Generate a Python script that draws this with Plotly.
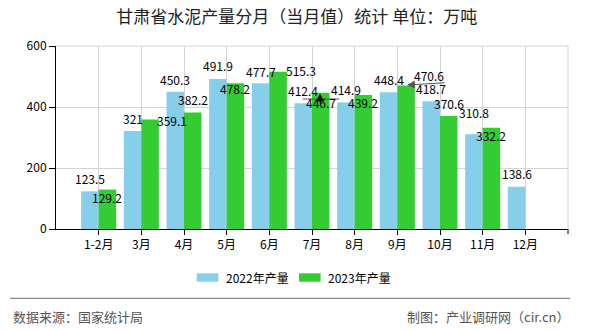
import plotly.graph_objects as go

# ---- data ----
months = ['1-2月', '3月', '4月', '5月', '6月', '7月', '8月', '9月', '10月', '11月', '12月']
prod_2022 = [123.5, 321, 450.3, 491.9, 477.7, 412.4, 414.9, 448.4, 418.7, 310.8, 138.6]
prod_2023 = [129.2, 359.1, 382.2, 478.2, 515.3, 446.7, 439.2, 470.6, 370.6, 332.2, None]
series_names = ['2022年产量', '2023年产量']
y_ticks = [0, 200, 400, 600]

title_text = '甘肃省水泥产量分月（当月值）统计 单位：万吨'
source_text = '数据来源：国家统计局'
credit_text = '制图：产业调研网（cir.cn）'

# ---- label placement (pixel offsets from bar-top centre) ----
dx_2022 = [0] * 11
dy_2022 = [12.5, 12.5, 12.5, 13.5, 12, 12.8, 12.5, 12.5, 12.5, 22, 12.8]
dx_2023 = [0, 22, 0, 0, 23, 0, 0, 23, 0, 0]
dy_2023 = [-7.7, -0.7, 12.9, -5.3, 1.4, -10, -7.7, 10, 12.8, -8]

# ---- geometry / styles ----
W, H = 590, 330
L, R, T, B = 56, 22, 46, 101
PW, PH = W - L - R, H - T - B
BLUE = '#87CEEB'
GREEN = '#33CC33'
GRID = '#d4d4d4'
FONT = 'Noto Sans CJK SC'
BARGAP = 0.18
half = (1 - BARGAP) / 4  # offset of each bar centre from category centre


def paper(px, py):
    return (px - L) / PW, (H - B - py) / PH


fig = go.Figure()
fig.add_trace(go.Bar(x=months, y=prod_2022, name=series_names[0],
                     marker=dict(color=BLUE, line=dict(width=0)), hoverinfo='skip'))
fig.add_trace(go.Bar(x=months, y=prod_2023, name=series_names[1],
                     marker=dict(color=GREEN, line=dict(width=0)), hoverinfo='skip'))

annotations = []
for i, v in enumerate(prod_2022):
    annotations.append(dict(x=i - half, y=v, xref='x', yref='y', text=f'{v:g}',
                            showarrow=False, xanchor='center', yanchor='middle',
                            xshift=dx_2022[i], yshift=dy_2022[i],
                            font=dict(family=FONT, size=12, color='#000')))
for i, v in enumerate(prod_2023):
    if v is None:
        continue
    annotations.append(dict(x=i + half, y=v, xref='x', yref='y', text=f'{v:g}',
                            showarrow=False, xanchor='center', yanchor='middle',
                            xshift=dx_2023[i], yshift=dy_2023[i],
                            font=dict(family=FONT, size=12, color='#000')))

# leader arrows
hx, hy = paper(320, 93.5)
annotations.append(dict(x=hx, y=hy, xref='paper', yref='paper', text='', showarrow=True,
                        ax=0, ay=6, arrowhead=2, arrowsize=1.6, arrowwidth=1,
                        arrowcolor='#000'))
hx, hy = paper(407, 85)
annotations.append(dict(x=hx, y=hy, xref='paper', yref='paper', text='', showarrow=True,
                        ax=39, ay=-2.3, arrowhead=2, arrowsize=1.6, arrowwidth=1,
                        arrowcolor='#555'))

# legend (manual)
shapes = []
for sx, col, name in [(196.7, BLUE, series_names[0]), (299, GREEN, series_names[1])]:
    x0, y0 = paper(sx, 273.3)
    x1, y1 = paper(sx + 21.6, 281.7)
    shapes.append(dict(type='rect', xref='paper', yref='paper', x0=x0, x1=x1, y0=y1, y1=y0,
                       fillcolor=col, line=dict(width=0)))
    tx, ty = paper(sx + 27, 277.7)
    annotations.append(dict(x=tx, y=ty, xref='paper', yref='paper', text=name, showarrow=False,
                            xanchor='left', yanchor='middle',
                            font=dict(family=FONT, size=12, color='#000')))

# 7月 leader line
x0, y0 = paper(302.7, 99)
x1, _ = paper(339.3, 99)
shapes.append(dict(type='line', xref='paper', yref='paper', x0=x0, x1=x1, y0=y0, y1=y0,
                   line=dict(color='#555', width=1)))

# right border of plot
shapes.append(dict(type='line', xref='paper', yref='paper', x0=1, x1=1, y0=0, y1=1,
                   line=dict(color=GRID, width=1)))
# top border
shapes.append(dict(type='line', xref='paper', yref='paper', x0=0, x1=1, y0=1, y1=1,
                   line=dict(color=GRID, width=1)))
# final x tick at right end of axis
_, ty0 = paper(0, H - B)
_, ty1 = paper(0, H - B + 5)
shapes.append(dict(type='line', xref='paper', yref='paper', x0=1, x1=1, y0=ty0, y1=ty1,
                   line=dict(color='#000', width=1)))

# footer separator line
x0, y0 = paper(10, 298.3)
x1, _ = paper(570, 298.3)
shapes.append(dict(type='line', xref='paper', yref='paper', x0=x0, x1=x1, y0=y0, y1=y0,
                   line=dict(color='#888', width=1.2)))

fx, fy = paper(11, 316.7)
annotations.append(dict(x=fx, y=fy, xref='paper', yref='paper', text=source_text, showarrow=False,
                        xanchor='left', yanchor='middle',
                        font=dict(family=FONT, size=13, color='#555')))
fx, fy = paper(571, 316.7)
annotations.append(dict(x=fx, y=fy, xref='paper', yref='paper', text=credit_text, showarrow=False,
                        xanchor='right', yanchor='middle',
                        font=dict(family=FONT, size=13, color='#555')))

fig.update_layout(
    width=W, height=H,
    margin=dict(l=L, r=R, t=T, b=B),
    barmode='group', bargap=BARGAP, bargroupgap=0,
    plot_bgcolor='white', paper_bgcolor='white',
    showlegend=False,
    font=dict(family=FONT, size=12, color='#000'),
    title=dict(text=title_text, x=0.503, xref='container', xanchor='center',
               y=1 - 16.7 / H, yref='container', yanchor='middle',
               font=dict(family=FONT, size=17, color='#222')),
    xaxis=dict(type='category', range=[-1, len(months)], showgrid=True, gridcolor=GRID,
               gridwidth=1, showline=True, linecolor='#000', linewidth=1,
               ticks='outside', ticklen=5, tickcolor='#000', zeroline=False,
               tickfont=dict(family=FONT, size=12, color='#000')),
    yaxis=dict(range=[0, 600], tickvals=y_ticks, showgrid=True, gridcolor=GRID,
               gridwidth=1, showline=True, linecolor='#000', linewidth=1,
               ticks='outside', ticklen=6, tickcolor='#000', zeroline=False,
               tickfont=dict(family=FONT, size=12, color='#000')),
    annotations=annotations,
    shapes=shapes,
)

fig.write_html('out.html')
